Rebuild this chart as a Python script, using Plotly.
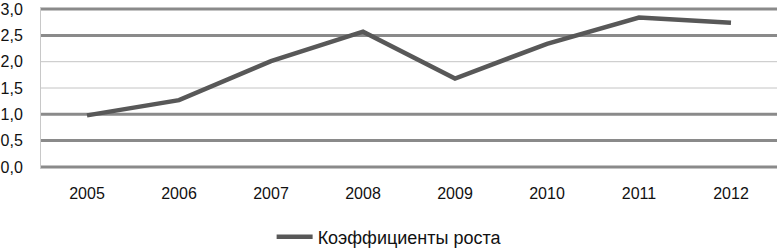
import plotly.graph_objects as go

years = ["2005", "2006", "2007", "2008", "2009", "2010", "2011", "2012"]
growth = [0.98, 1.27, 2.01, 2.57, 1.68, 2.34, 2.84, 2.74]
series_name = "Коэффициенты роста"
y_ticks = [0.0, 0.5, 1.0, 1.5, 2.0, 2.5, 3.0]
grid_widths = [3, 3, 3, 1, 1, 3, 3]
grid_colors = ["#8a8a8a", "#8a8a8a", "#8a8a8a", "#c4c4c4", "#c4c4c4", "#8a8a8a", "#8a8a8a"]

FONT = "Liberation Sans, Arial, sans-serif"

fig = go.Figure()
fig.add_trace(go.Scatter(
    x=years, y=growth, mode="lines", name=series_name,
    line=dict(color="#585858", width=4.5),
    showlegend=True,
))

for v, w, c in zip(y_ticks, grid_widths, grid_colors):
    fig.add_shape(type="line", xref="paper", x0=0, x1=1, yref="y", y0=v, y1=v,
                  line=dict(color=c, width=w), layer="below")

fig.update_layout(
    width=777, height=248,
    margin=dict(l=41, r=0, t=7, b=79, autoexpand=False),
    paper_bgcolor="white", plot_bgcolor="white",
    separators=",.",
    font=dict(family=FONT, size=16, color="#111111"),
    showlegend=True,
    legend=dict(orientation="h", x=0.473, xanchor="center", y=-0.42, yanchor="middle",
                font=dict(family=FONT, size=18, color="#111111"),
                itemwidth=36, bgcolor="rgba(0,0,0,0)"),
)
fig.update_xaxes(
    type="category", range=[-0.5, 7.5], showgrid=False, zeroline=False,
    showline=False, ticks="", ticklabelstandoff=13, automargin=False,
    ticklabeloverflow="allow",
    tickfont=dict(family=FONT, size=16, color="#111111"),
)
fig.update_yaxes(
    range=[-0.04, 3.04], tickvals=y_ticks, tickformat=".1f",
    showgrid=False, zeroline=False, showline=True, linecolor="#c8c8c8", linewidth=1,
    ticks="", ticklabelstandoff=14, automargin=False, ticklabeloverflow="allow",
    tickfont=dict(family=FONT, size=16, color="#111111"),
)

fig.write_html("out.html", config={"displayModeBar": False},
               post_script="document.body.style.margin='0';document.body.style.overflow='hidden';")
